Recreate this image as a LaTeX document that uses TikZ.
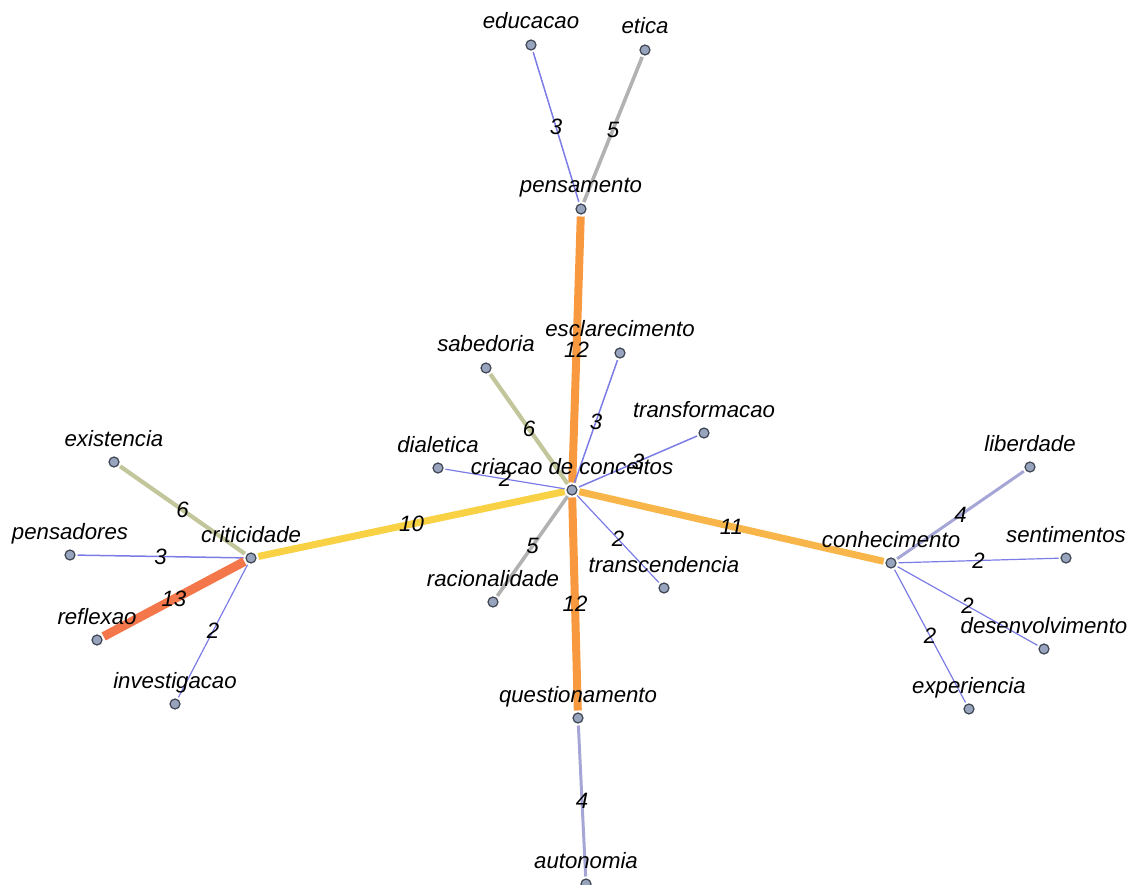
\documentclass[tikz,border=0pt]{standalone}
\usepackage{fontspec}
\setmainfont{Liberation Sans}
\usetikzlibrary{backgrounds}
\definecolor{dotfill}{HTML}{98A3BE}
\definecolor{dotline}{HTML}{3E4652}
\definecolor{cw2}{HTML}{7C7CE6}
\definecolor{cw4}{HTML}{A6A6D6}
\definecolor{cw5}{HTML}{B2B2B2}
\definecolor{cw6}{HTML}{C2C69A}
\definecolor{cw10}{HTML}{F8D145}
\definecolor{cw11}{HTML}{F8B64A}
\definecolor{cw12}{HTML}{F9993F}
\definecolor{cw13}{HTML}{F3774A}
\tikzset{
  dot/.style={circle, minimum size=10pt, inner sep=0pt, outer sep=2.5pt,
    fill=dotfill, draw=dotline, line width=1.2pt},
  lab/.style={font=\fontsize{22.2}{25}\selectfont\itshape, inner sep=0pt, anchor=base},
  elab/.style={font=\fontsize{22.2}{25}\selectfont\itshape, inner sep=0pt, midway, anchor=center},
  w2/.style={draw=cw2, line width=1.2pt},
  w3/.style={draw=cw2, line width=1.5pt},
  w4/.style={draw=cw4, line width=3pt},
  w5/.style={draw=cw5, line width=3.6pt},
  w6/.style={draw=cw6, line width=4.2pt},
  w10/.style={draw=cw10, line width=7pt},
  w11/.style={draw=cw11, line width=7pt},
  w12/.style={draw=cw12, line width=8pt},
  w13/.style={draw=cw13, line width=9pt},
}
% a term: dot plus its caption above it
\newcommand\term[4]{%
  \node[dot] (#1) at (#2,#3) {};
  \node[lab] (#1-t) at ([yshift=16pt]#1.center) {#4};}
\begin{document}
\begin{tikzpicture}[x=1pt, y={(0pt,-1pt)}]
\useasboundingbox (0,0) rectangle (1130,885);

% central term and its neighbours
\term{cc}{572}{490}{criacao de conceitos}
\term{pens}{581}{209}{pensamento}
\term{educ}{531}{45}{educacao}
\term{etic}{645}{50}{etica}
\term{escl}{620}{353}{esclarecimento}
\term{sabe}{486}{368}{sabedoria}
\term{tran}{704}{433}{transformacao}
\term{dial}{438}{468}{dialetica}
\term{trsc}{664}{588}{transcendencia}
\term{raci}{493}{602}{racionalidade}
\term{ques}{578}{718}{questionamento}
\term{auto}{586}{884}{autonomia}
% left cluster
\term{crit}{251}{558}{criticidade}
\term{exis}{114}{462}{existencia}
\term{pnsd}{70}{555}{pensadores}
\term{refl}{97}{640}{reflexao}
\term{inve}{175}{704}{investigacao}
% right cluster
\term{conh}{891}{563}{conhecimento}
\term{libe}{1030}{467}{liberdade}
\term{sent}{1066}{558}{sentimentos}
\term{dese}{1044}{649}{desenvolvimento}
\term{expe}{969}{709}{experiencia}

\begin{scope}[on background layer]
  \draw[w12] (cc) -- (pens) node[elab] {12};
  \draw[w12] (cc) -- (ques) node[elab] {12};
  \draw[w10] (cc) -- (crit) node[elab] {10};
  \draw[w11] (cc) -- (conh) node[elab] {11};
  \draw[w6]  (cc) -- (sabe) node[elab] {6};
  \draw[w5]  (cc) -- (raci) node[elab] {5};
  \draw[w3]  (cc) -- (escl) node[elab] {3};
  \draw[w3]  (cc) -- (tran) node[elab] {3};
  \draw[w2]  (cc) -- (dial) node[elab] {2};
  \draw[w2]  (cc) -- (trsc) node[elab] {2};

  \draw[w3]  (pens) -- (educ) node[elab] {3};
  \draw[w5]  (pens) -- (etic) node[elab] {5};
  \draw[w4]  (ques) -- (auto) node[elab] {4};

  \draw[w6]  (crit) -- (exis) node[elab] {6};
  \draw[w3]  (crit) -- (pnsd) node[elab] {3};
  \draw[w13] (crit) -- (refl) node[elab] {13};
  \draw[w2]  (crit) -- (inve) node[elab] {2};

  \draw[w4]  (conh) -- (libe) node[elab] {4};
  \draw[w2]  (conh) -- (sent) node[elab] {2};
  \draw[w2]  (conh) -- (dese) node[elab] {2};
  \draw[w2]  (conh) -- (expe) node[elab] {2};
\end{scope}
\end{tikzpicture}
\end{document}
